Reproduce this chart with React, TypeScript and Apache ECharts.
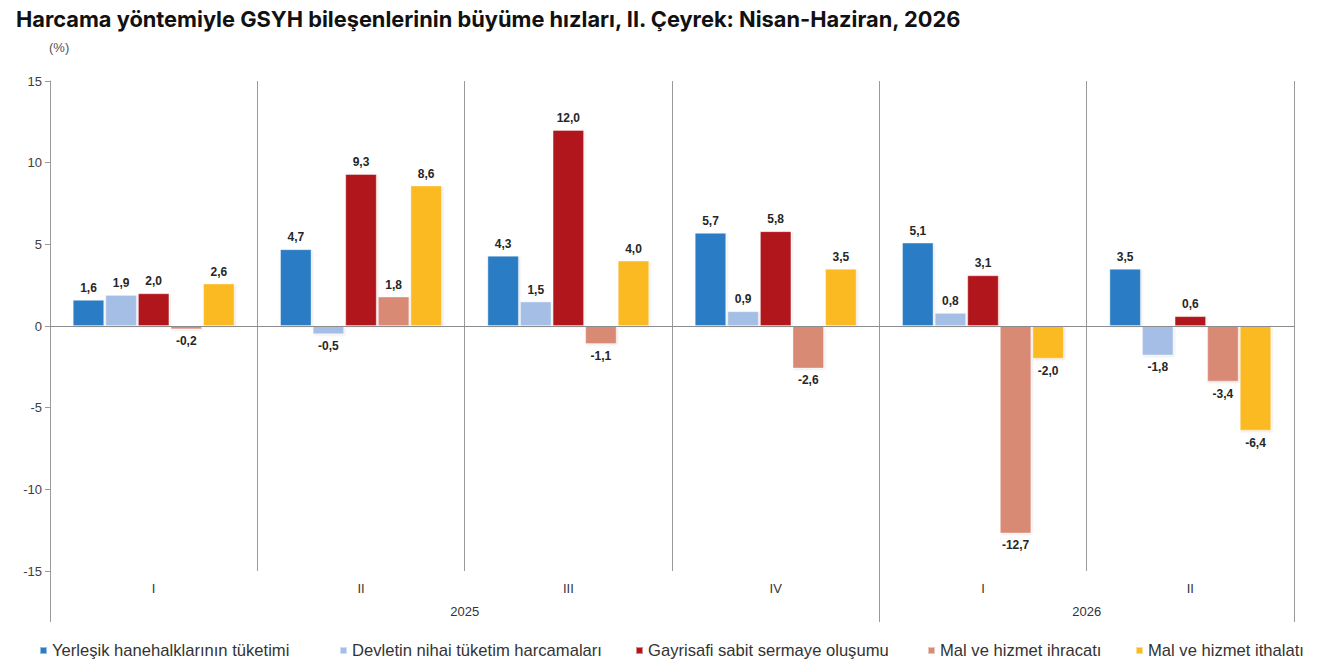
import { useRef, useEffect } from "react";
import * as echarts from "echarts";

// çeyrekler ve yıllar
const quarters = ["I", "II", "III", "IV", "I", "II"];
const yearLabels = ["2025", "2026"];
const yearCenters = [2, 5]; // yıl etiketlerinin çeyrek ekseni üzerindeki konumu
const yearBounds = [0, 4, 6];
const yTicks = { min: -15, max: 15, interval: 5 };

// seriler
const seriesNames = [
  "Yerleşik hanehalklarının tüketimi",
  "Devletin nihai tüketim harcamaları",
  "Gayrisafi sabit sermaye oluşumu",
  "Mal ve hizmet ihracatı",
  "Mal ve hizmet ithalatı",
];
const hanehalki = [1.6, 4.7, 4.3, 5.7, 5.1, 3.5];
const devlet = [1.9, -0.5, 1.5, 0.9, 0.8, -1.8];
const gsso = [2.0, 9.3, 12.0, 5.8, 3.1, 0.6];
const ihracat = [-0.2, 1.8, -1.1, -2.6, -12.7, -3.4];
const ithalat = [2.6, 8.6, 4.0, 3.5, -2.0, -6.4];
const seriesValues = [hanehalki, devlet, gsso, ihracat, ithalat];
const colors = ["#2a7cc4", "#a5bee6", "#b0161a", "#d98a75", "#fbba22"];
const legendLeft = [34, 334, 630, 922, 1130];

const App = () => {
  const chartRef = useRef<HTMLDivElement>(null);

  useEffect(() => {
    const chart = echarts.init(chartRef.current, null, { renderer: "svg" });

    const font = "'Liberation Sans', Arial, sans-serif";
    const narrow = "'Liberation Sans Narrow', 'Liberation Sans', Arial, sans-serif";

    const series: any[] = seriesNames.map((name, i) => ({
      name,
      type: "bar",
      xAxisIndex: 0,
      yAxisIndex: 0,
      barGap: "4%",
      barCategoryGap: "22%",
      itemStyle: {
        color: colors[i],
        borderColor: "rgba(255,255,255,0.5)",
        borderWidth: 0.8,
        shadowColor: "rgba(0,0,0,0.12)",
        shadowBlur: 2,
        shadowOffsetX: 1,
        shadowOffsetY: 1,
      },
      label: {
        show: true,
        fontFamily: narrow,
        fontWeight: "bold",
        fontSize: 12,
        color: "#262626",
        distance: 6,
        formatter: (p: any) => p.value.toFixed(1).replace(".", ","),
      },
      data: seriesValues[i].map((v) => ({
        value: v,
        label: { position: v < 0 ? "bottom" : "top" },
      })),
      markLine:
        i === 0
          ? {
              silent: true,
              symbol: "none",
              label: { show: false },
              lineStyle: { color: "#8c8c8c", type: "solid", width: 1 },
              data: [{ yAxis: 0 }],
            }
          : undefined,
    }));

    const option = {
      animation: false,
      textStyle: { fontFamily: font },
      title: {
        text: "Harcama yöntemiyle GSYH bileşenlerinin büyüme hızları, II. Çeyrek: Nisan-Haziran, 2026",
        left: 11,
        top: 3,
        textStyle: {
          fontFamily: "Inter, 'Liberation Sans', sans-serif",
          fontSize: 21.8,
          fontWeight: "bold",
          color: "#111",
        },
      },
      graphic: [
        {
          type: "text",
          left: 49,
          top: 41,
          style: { text: "(%)", fontSize: 13, fill: "#555", fontFamily: font },
        },
      ],
      legend: seriesNames.map((name, i) => ({
        data: [name],
        left: legendLeft[i],
        top: 637,
        icon: "rect",
        itemWidth: 7,
        itemHeight: 7,
        itemGap: 0,
        selectedMode: false,
        textStyle: { fontSize: 16.6, color: "#333", fontFamily: font },
      })),
      grid: [
        { left: 50, right: 28, top: 81, bottom: 94 },
        { left: 50, right: 28, top: 81, bottom: 94 },
      ],
      xAxis: [
        {
          type: "category",
          gridIndex: 0,
          data: quarters,
          position: "bottom",
          axisLine: { show: false },
          axisTick: { show: false },
          axisLabel: { fontSize: 13, color: "#333", margin: 11 },
          splitLine: { show: true, lineStyle: { color: "#9a9a9a", width: 1 } },
        },
        {
          type: "value",
          gridIndex: 1,
          min: 0,
          max: 6,
          position: "bottom",
          axisLine: { show: false },
          splitLine: { show: false },
          axisTick: {
            show: true,
            customValues: yearBounds,
            length: 51,
            lineStyle: { color: "#9a9a9a" },
          },
          axisLabel: {
            customValues: yearCenters,
            fontSize: 13,
            color: "#333",
            margin: 34,
            formatter: (v: number) => yearLabels[yearCenters.indexOf(v)] ?? "",
          },
        },
      ],
      yAxis: [
        {
          type: "value",
          gridIndex: 0,
          min: yTicks.min,
          max: yTicks.max,
          interval: yTicks.interval,
          axisLine: { show: true, lineStyle: { color: "#9a9a9a" } },
          axisTick: { show: true, length: 5, lineStyle: { color: "#9a9a9a" } },
          axisLabel: { fontSize: 13, color: "#404040", margin: 8 },
          splitLine: { show: false },
        },
        {
          type: "value",
          gridIndex: 1,
          show: false,
          min: 0,
          max: 1,
        },
      ],
      series,
    };

    chart.setOption(option);

    return () => {
      chart.dispose();
    };
  }, []);

  return (
    <div
      ref={chartRef}
      style={{ position: "fixed", left: 0, top: 0, width: "1322px", height: "665px", background: "#fff" }}
    ></div>
  );
};

export default App;
